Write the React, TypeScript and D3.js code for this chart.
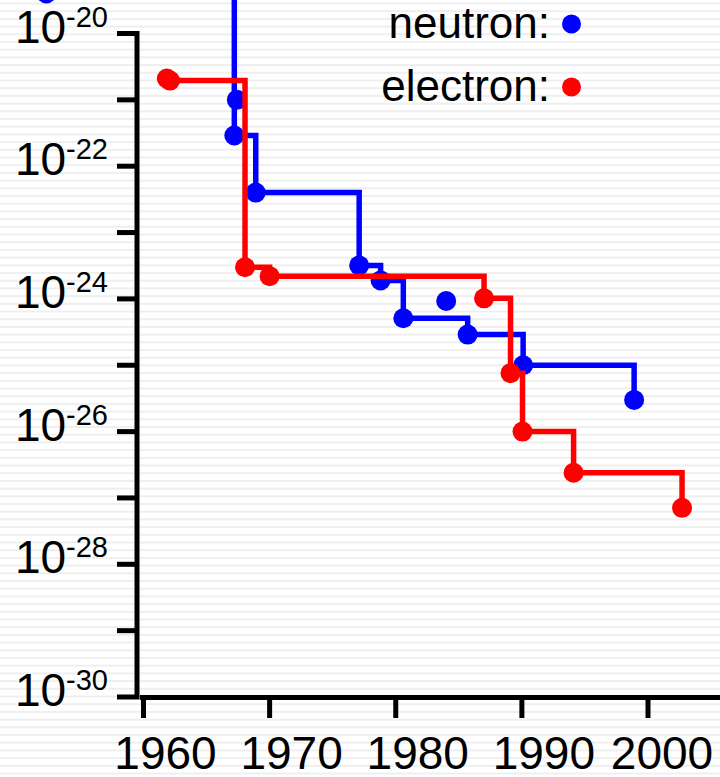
import React from "react";
import * as d3 from "d3";

// upper limits on the electric dipole moment (e·cm), by year of publication
const neutronYears = [1952.3, 1967.2, 1967.4, 1968.9, 1977.1, 1978.8, 1980.6, 1984.0, 1985.7, 1990.1, 1998.9];
const neutronLimits = [4.0e-20, 2.9e-22, 1.0e-21, 4.0e-23, 3.2e-24, 1.9e-24, 5.1e-25, 9.3e-25, 2.9e-25, 1.0e-25, 3.0e-26];

const electronYears = [1961.85, 1962.1, 1968.05, 1970.0, 1987.0, 1989.1, 1990.05, 1994.1, 2002.7];
const electronLimits = [2.1e-21, 1.95e-21, 3.0e-24, 2.2e-24, 1.02e-24, 7.6e-26, 1.0e-26, 2.4e-27, 7.1e-28];

const yearTicks = [1960, 1970, 1980, 1990, 2000];
const decadeExps = [-20, -21, -22, -23, -24, -25, -26, -27, -28, -29, -30];
const labelExps = [-20, -22, -24, -26, -28, -30];

const legendItems = [
    {label: "neutron:", color: "#0000ff"},
    {label: "electron:", color: "#ff0000"},
];

interface Pt {
    yr: number;
    v: number;
}

const W = 720;
const H = 777;
const FONT = "'Liberation Sans', Arial, sans-serif";

// only results that improved on the best limit so far make the step line
const envelope = (pts: Pt[]) => {
    let best = Infinity;
    return pts.filter(p => {
        if (p.v < best) {
            best = p.v;
            return true;
        }
        return false;
    });
};

export default function App() {
    const x = d3.scaleLinear().domain([1960, 2000]).range([143.5, 648]);
    const y = d3.scaleLog().domain([1e-30, 1e-20]).range([697, 33.5]);

    const axisX = 137;
    const tickLen = 20;

    const neutron: Pt[] = neutronYears.map((yr, i) => ({yr, v: neutronLimits[i]}));
    const electron: Pt[] = electronYears.map((yr, i) => ({yr, v: electronLimits[i]}));

    const line = d3
        .line<Pt>()
        .x(p => x(p.yr))
        .y(p => y(p.v))
        .curve(d3.curveStepAfter);

    const stripes = d3.range(2.5, H, 7.7);

    const yTop = y(1e-20);
    const yBot = y(1e-30);

    const series = [
        {pts: neutron, color: legendItems[0].color},
        {pts: electron, color: legendItems[1].color},
    ];

    return (
        <svg width={W} height={H} style={{position: "absolute", left: 0, top: 0}}>
            <rect width={W} height={H} fill="#ffffff"/>
            {stripes.map((s, i) => (
                <rect key={i} x={0} y={s} width={W} height={2} fill="#efefef"/>
            ))}

            {/* y axis with bracket ends */}
            <path
                d={`M${axisX - tickLen},${yTop}H${axisX}V${yBot}H${axisX - tickLen}`}
                fill="none"
                stroke="#000"
                strokeWidth={5}
            />
            {decadeExps.slice(1, -1).map(e => (
                <line key={e} x1={axisX - tickLen} x2={axisX} y1={y(Math.pow(10, e))} y2={y(Math.pow(10, e))}
                      stroke="#000" strokeWidth={5}/>
            ))}
            {labelExps.map(e => (
                <text key={e} x={108} y={y(Math.pow(10, e)) + 9} textAnchor="end"
                      fontFamily={FONT} fontSize={46} fill="#000">
                    10<tspan dy={-16} fontSize={29}>{`${e}`}</tspan>
                </text>
            ))}

            {/* x axis */}
            <line x1={axisX + 3} x2={W} y1={yBot + 0.5} y2={yBot + 0.5} stroke="#000" strokeWidth={5}/>
            {yearTicks.map(t => (
                <line key={t} x1={x(t)} x2={x(t)} y1={yBot + 0.5} y2={yBot + 21} stroke="#000" strokeWidth={5}/>
            ))}
            {yearTicks.map(t => (
                <text key={t} x={Math.min(x(t) + 22, 662)} y={769} textAnchor="middle"
                      fontFamily={FONT} fontSize={46} fill="#000">
                    {t}
                </text>
            ))}

            {series.map((s, i) => (
                <g key={i}>
                    <path d={line(envelope(s.pts)) ?? ""} fill="none" stroke={s.color} strokeWidth={5.5}/>
                    {s.pts.map((p, j) => (
                        <circle key={j} cx={x(p.yr)} cy={y(p.v)} r={10} fill={s.color}/>
                    ))}
                </g>
            ))}

            {legendItems.map((d, i) => (
                <g key={d.label} transform={`translate(0,${38 + i * 63})`}>
                    <text x={550} y={0} textAnchor="end" fontFamily={FONT} fontSize={44} fill="#000">
                        {d.label}
                    </text>
                    <circle cx={571.5} cy={-14} r={9.5} fill={d.color}/>
                </g>
            ))}
        </svg>
    );
}
